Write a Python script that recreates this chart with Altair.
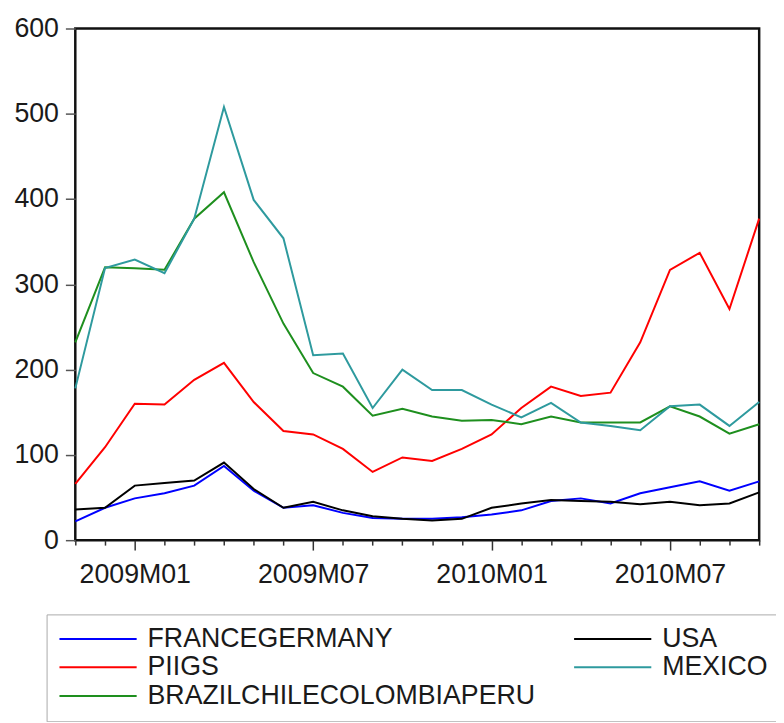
import altair as alt
import pandas as pd

months = ["2008M11", "2008M12", "2009M01", "2009M02", "2009M03", "2009M04",
          "2009M05", "2009M06", "2009M07", "2009M08", "2009M09", "2009M10",
          "2009M11", "2009M12", "2010M01", "2010M02", "2010M03", "2010M04",
          "2010M05", "2010M06", "2010M07", "2010M08", "2010M09", "2010M10"]
tick_labels = ["2009M01", "2009M07", "2010M01", "2010M07"]
y_ticks = [0, 100, 200, 300, 400, 500, 600]

francegermany = [22, 38, 49, 55, 64, 87, 58, 38, 41, 32, 26, 25,
                 25, 27, 30, 35, 46, 49, 43, 55, 62, 69, 58, 69]
piigs = [66, 109, 160, 159, 188, 208, 162, 128, 124, 107, 80, 97,
         93, 107, 124, 155, 180, 169, 173, 232, 317, 337, 271, 377]
brazilchilecolombiaperu = [232, 320, 319, 317, 377, 408, 326, 254, 196, 180, 146, 154,
                           145, 140, 141, 136, 145, 138, 138, 138, 157, 145, 125, 136]
usa = [36, 38, 64, 67, 70, 91, 60, 38, 45, 35, 28, 25,
       23, 25, 38, 43, 47, 46, 45, 42, 45, 41, 43, 56]
mexico = [178, 319, 329, 313, 377, 508, 399, 354, 217, 219, 155, 200,
          176, 176, 159, 144, 161, 138, 134, 129, 157, 159, 134, 162]

series = {
    "FRANCEGERMANY": francegermany,
    "PIIGS": piigs,
    "BRAZILCHILECOLOMBIAPERU": brazilchilecolombiaperu,
    "USA": usa,
    "MEXICO": mexico,
}
legend_order = ["FRANCEGERMANY", "PIIGS", "BRAZILCHILECOLOMBIAPERU", "USA", "MEXICO"]
legend_colors = ["#0000FF", "#FF0000", "#1E8F1E", "#000000", "#2E9A9E"]

rows = []
for name, vals in series.items():
    for i, v in enumerate(vals):
        rows.append({"idx": i, "month": months[i], "value": v, "series": name})
df = pd.DataFrame(rows)

tick_idx = [months.index(t) for t in tick_labels]
label_expr = " : ".join(
    f"datum.value == {i} ? '{months[i]}'" for i in tick_idx
) + " : ''"
major_test = " || ".join(f"datum.value == {i}" for i in tick_idx)

FONT = "Liberation Sans"

chart = alt.Chart(df).mark_line(strokeWidth=2).encode(
    x=alt.X("idx:Q",
            scale=alt.Scale(domain=[0, len(months) - 1], nice=False, zero=False),
            axis=alt.Axis(title=None, values=list(range(len(months))),
                          labelExpr=label_expr, grid=False, domain=False,
                          tickColor="#333", tickWidth=1.5,
                          tickSize={"condition": {"test": major_test, "value": 10}, "value": 5},
                          labelFont=FONT, labelFontSize=27, labelColor="#1a1a1a",
                          labelPadding=12, labelFlush=False, labelOverlap=False)),
    y=alt.Y("value:Q",
            scale=alt.Scale(domain=[0, 600], nice=False),
            axis=alt.Axis(title=None, values=y_ticks, grid=False, domain=False,
                          tickColor="#555", tickWidth=1.5, tickSize=10,
                          labelFont=FONT, labelFontSize=27, labelColor="#1a1a1a",
                          labelPadding=7)),
    color=alt.Color("series:N",
                    scale=alt.Scale(domain=legend_order, range=legend_colors),
                    sort=legend_order,
                    legend=alt.Legend(title=None, orient="none", legendX=-29, legendY=592,
                                      columns=2, symbolType="stroke", symbolSize=6084,
                                      symbolStrokeWidth=2, clipHeight=25,
                                      labelFont=FONT, labelFontSize=27, labelColor="#1a1a1a",
                                      labelOffset=10, rowPadding=1, columnPadding=38,
                                      padding=12, strokeColor="#aaa",
                                      labelLimit=1000)),
    detail="series:N",
).properties(
    width=691, height=517,
    autosize=alt.AutoSizeParams(type="none"),
    padding={"left": 68, "top": 17, "right": 17, "bottom": 180},
).configure_view(
    stroke="#111", strokeWidth=2.5
)

chart.save("out.html", embed_options={"renderer": "svg", "actions": False})
